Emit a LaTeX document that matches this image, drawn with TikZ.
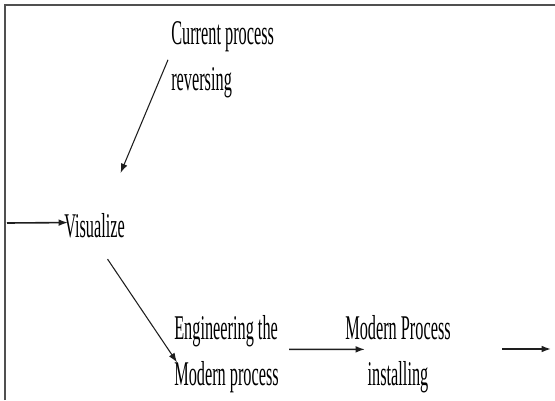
\documentclass[tikz,border=0pt]{standalone}
\usepackage{fontspec}
\newfontfamily\condfont[FakeStretch=0.47]{Liberation Serif}
\usepackage{tikz}
\usetikzlibrary{calc,arrows.meta}

\tikzset{
  steptext/.style={font=\condfont\fontsize{26pt}{35pt}\selectfont, inner sep=0pt},
  flowline/.style={draw={rgb,255:red,30;green,30;blue,30}, line width=0.8pt, -{Latex[length=7pt,width=5pt]}},
  flowrow/.style={flowline, line width=1.2pt},
}

\begin{document}
\begin{tikzpicture}[x=0.75pt,y=0.75pt,yscale=-1,xscale=1]
\useasboundingbox (0,0) rectangle (555,400);

%Frame
\draw [draw={rgb,255:red,80;green,80;blue,80}, line width=1.2pt] (5,400) -- (5,5) -- (555,5) ;

%Text Nodes
\node [steptext, anchor=north west, align=left] (current) at (171,21) {Current process\\reversing};
\node [steptext, anchor=north west] (visual) at (64,213) {Visualize};
\node [steptext, anchor=north west, align=left] (engineer) at (174,315) {Engineering the\\Modern process};
\node [steptext, anchor=north, align=center] (install) at (398,315) {Modern Process\\installing};

%Free ends
\coordinate (start) at (7,223) ;
\coordinate (finish) at (551,349) ;

%Straight Lines
\draw [flowline] ($(current.west)+(-3,0)$) -- ($(visual.north)+(26,-40)$) ;
\draw [flowrow] (start) -- ($(visual.west)+(4,-3)$) ;
\draw [flowline] ($(visual.south)+(13,21)$) -- ($(engineer.west)+(3,8)$) ;
\draw [flowrow] ($(engineer.east)+(10,-5)$) -- ($(install.west)+(20,-5)$) ;
\draw [flowrow] ($(finish)+(-49,0)$) -- (finish) ;

\end{tikzpicture}
\end{document}
